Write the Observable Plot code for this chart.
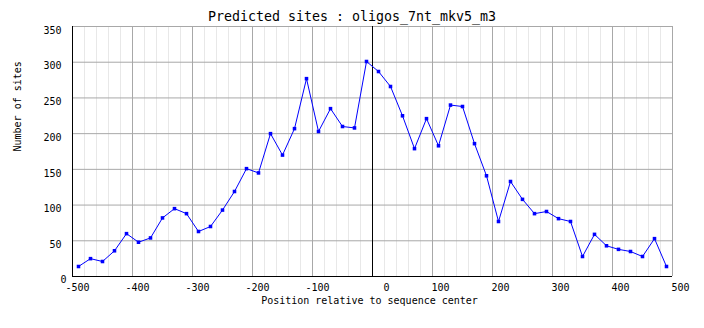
<!DOCTYPE html>
<html>
<head>
<meta charset="utf-8">
<script src="https://cdn.jsdelivr.net/npm/d3@7"></script>
<script src="https://cdn.jsdelivr.net/npm/@observablehq/plot@0.6"></script>
<style>
  body { margin: 0; background: #fff; }
  #title { height: 16px; padding-top: 9px; line-height: 16px; text-align: center;
           font-family: "DejaVu Sans Mono", monospace; font-size: 13.3px; color: #000; width: 704px; }
</style>
</head>
<body>
<div id="title">Predicted sites : oligos_7nt_mkv5_m3</div>
<div id="chart"></div>
<script>
const positions = [-490,-470,-450,-430,-410,-390,-370,-350,-330,-310,-290,-270,-250,-230,-210,-190,-170,-150,-130,-110,-90,-70,-50,-30,-10,10,30,50,70,90,110,130,150,170,190,210,230,250,270,290,310,330,350,370,390,410,430,450,470,490];
const sites = [14,25,21,36,60,48,54,82,95,88,63,70,93,119,151,145,200,170,207,277,203,235,210,208,301,287,266,225,179,221,183,240,238,186,141,77,133,108,88,91,81,77,28,59,43,38,35,28,53,14];
const xMajor = [-500,-400,-300,-200,-100,0,100,200,300,400,500];
const xMinor = d3.range(-480, 500, 20).filter(v => v % 100 !== 0);
const yTicks = [0,50,100,150,200,250,300,350];
const xTitle = "Position relative to sequence center";
const yTitle = "Number of sites";

const data = positions.map((p, i) => ({x: p, y: sites[i]}));

const font = "DejaVu Sans Mono, monospace";
const chart = Plot.plot({
  width: 704,
  height: 303,
  marginTop: 1,
  marginBottom: 52,
  marginLeft: 72,
  marginRight: 32,
  style: {fontFamily: font, fontSize: "10px", background: "#fff", color: "#000"},
  x: {domain: [-500, 500]},
  y: {domain: [0, 350]},
  marks: [
    Plot.ruleX(xMinor, {stroke: "#e8e8e8"}),
    Plot.ruleX(xMajor.filter(v => v !== 0 && v !== -500), {stroke: "#a8a8a8"}),
    Plot.ruleY(yTicks.filter(v => v !== 0), {stroke: "#a8a8a8"}),
    Plot.ruleX([0], {stroke: "#000"}),
    Plot.ruleX([-500], {stroke: "#000"}),
    Plot.ruleY([0], {stroke: "#000"}),
    Plot.axisY({ticks: yTicks.filter(v => v !== 0), tickSize: 0, tickPadding: 11, dy: 4, label: null, fontSize: 10}),
    Plot.axisY({ticks: [0], tickSize: 0, tickPadding: 6, dy: 3, label: null, fontSize: 10}),
    Plot.axisX({ticks: xMajor.filter(v => v < 0), tickSize: 0, tickPadding: 7, textAnchor: "start", dx: -7, label: null, tickFormat: d => "-" + Math.abs(d)}),
    Plot.axisX({ticks: xMajor.filter(v => v > 0), tickSize: 0, tickPadding: 7, textAnchor: "start", dx: -1, label: null}),
    Plot.axisX({ticks: [0], tickSize: 0, tickPadding: 7, textAnchor: "start", dx: 11, label: null}),
    Plot.text([xTitle], {frameAnchor: "bottom", dy: 27, dx: -3, fontSize: 10}),
    Plot.text([yTitle], {frameAnchor: "left", dx: -55, rotate: -90, fontSize: 10}),
    Plot.line(data, {x: "x", y: "y", stroke: "#0000ff", strokeWidth: 1}),
    Plot.dot(data, {x: "x", y: "y", symbol: "square", r: 2, fill: "#0000ff", stroke: "none"})
  ]
});
document.getElementById("chart").appendChild(chart);
</script>
</body>
</html>
